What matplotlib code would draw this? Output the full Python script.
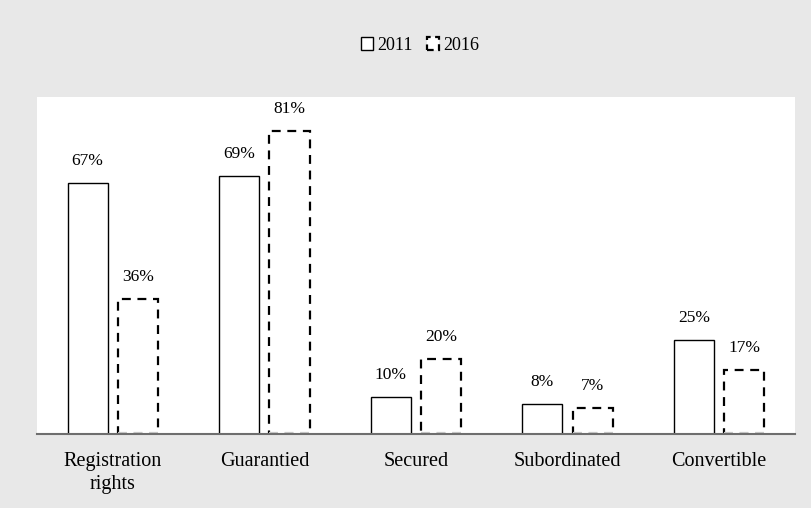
import numpy as np
import matplotlib.pyplot as plt
from matplotlib.patches import Patch

plt.rcParams['font.family'] = ['Liberation Serif', 'DejaVu Serif']

# data
categories = ['Registration\nrights', 'Guarantied', 'Secured', 'Subordinated', 'Convertible']
v2011 = [67, 69, 10, 8, 25]
v2016 = [36, 81, 20, 7, 17]

bg = '#e8e8e8'
fig = plt.figure(figsize=(8.12, 5.08), dpi=100, facecolor=bg)
ax = fig.add_axes([0.0456, 0.1457, 0.9334, 0.6633])
ax.set_facecolor('white')

x = np.arange(len(categories))
w = 0.265
off = 0.166

b1 = ax.bar(x - off, v2011, w, facecolor='white', edgecolor='black', linewidth=1.0)
b2 = ax.bar(x + off, v2016, w, facecolor='white', edgecolor='black', linewidth=1.6,
            linestyle=(0, (4, 3)))

# light dashed bottom edge of 2016 bars
for xi in x + off:
    ax.plot([xi - w / 2, xi + w / 2], [0.3, 0.3], color='#c8c8c8', lw=1.6,
            ls=(0, (4, 3)), zorder=3)

for bars, vals in [(b1, v2011), (b2, v2016)]:
    for r, v in zip(bars, vals):
        ax.annotate(f'{v}%', (r.get_x() + r.get_width() / 2, v), xytext=(0, 10),
                    textcoords='offset points', ha='center', va='bottom', fontsize=12.5)

ax.set_xlim(-0.5, 4.5)
ax.set_ylim(0, 90)
ax.set_yticks([])
ax.set_xticks(x)
ax.set_xticklabels(categories, fontsize=14.5, linespacing=1.3)
ax.tick_params(axis='x', length=0, pad=13)
for s in ['top', 'left', 'right']:
    ax.spines[s].set_visible(False)
ax.spines['bottom'].set_color('#6e6e6e')
ax.spines['bottom'].set_linewidth(1.5)
ax.spines['bottom'].set_zorder(4)

handles = [Patch(facecolor='white', edgecolor='black', linewidth=1.0, label='2011'),
           Patch(facecolor='white', edgecolor='black', linewidth=1.6, linestyle=(0, (3, 2)),
                 label='2016')]
fig.legend(handles=handles, loc='center', bbox_to_anchor=(0.517, 0.911), ncol=2,
           frameon=False, fontsize=13, handlelength=0.7, handleheight=0.7,
           handletextpad=0.2, columnspacing=0.8)

plt.savefig('out.png', dpi=100, facecolor=bg)
